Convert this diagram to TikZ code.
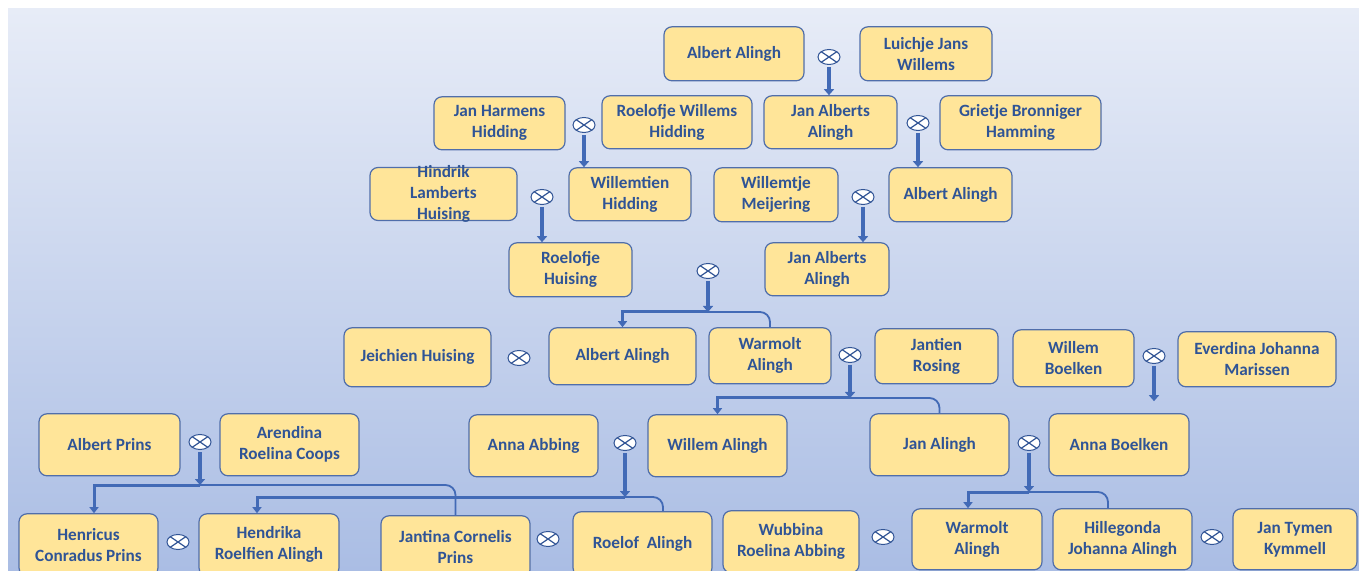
\documentclass[tikz,border=0pt]{standalone}
\usepackage{fontspec}
\setmainfont{Carlito}
\usetikzlibrary{shapes.geometric,arrows.meta,calc}
\definecolor{txtblue}{RGB}{47,84,150}
\definecolor{boxfill}{RGB}{255,229,153}
\definecolor{boxline}{RGB}{80,110,170}
\definecolor{conn}{RGB}{66,106,182}
\definecolor{wedline}{RGB}{50,85,150}
\definecolor{bgtop}{RGB}{231,236,247}
\definecolor{bgbot}{RGB}{170,189,228}
\newcommand\personbox[6]{\node[person, minimum width={(#4-#2)*0.5pt}, minimum height={(#5-#3)*0.5pt}] (#1) at ({(#2+#4)/2},{(#3+#5)/2+0.8}) {#6};}
\begin{document}
\begin{tikzpicture}[x=0.5pt,y=-0.5pt,
  ptext/.style={align=center, text=txtblue, font=\fontsize{8.6pt}{10.5pt}\selectfont\bfseries},
  person/.style={ptext, draw=boxline, line width=0.6pt, fill=boxfill, rounded corners=4pt, inner sep=0pt},
  wed/.style={ellipse, draw=wedline, line width=0.5pt, fill=white, minimum width=11pt, minimum height=7.5pt, inner sep=0pt,
    path picture={\draw[wedline,line width=0.6pt] (path picture bounding box.north west) -- (path picture bounding box.south east)
      (path picture bounding box.north east) -- (path picture bounding box.south west);}},
  arrowc/.style={draw=conn, line width=2pt, shorten <=1pt, -{Triangle[width=5pt,length=3pt]}},
  thickc/.style={draw=conn, line width=1.5pt, -{Triangle[width=4.5pt,length=3pt]}},
  thinc/.style={draw=conn, line width=0.9pt, rounded corners=5pt}
]
\useasboundingbox (0,0) rectangle (1359,571);
\fill[white] (0,0) rectangle (1359,571);
\shade[top color=bgtop, bottom color=bgbot] (8,9) rectangle (1359,571);

% persons
\personbox{aa1}{664}{26}{804}{80}{Albert Alingh}
\personbox{ljw}{860}{26}{992}{80}{Luichje Jans\\Willems}
\personbox{jaa1}{764}{95}{897}{148}{Jan Alberts\\Alingh}
\personbox{gbh}{940}{95}{1101}{149}{Grietje Bronniger\\Hamming}
\personbox{aa2}{889}{167}{1012}{221}{Albert Alingh}
\personbox{jhh}{434}{96}{565}{149}{Jan Harmens\\Hidding}
\personbox{rwh}{602}{95}{752}{148}{Roelofje Willems\\Hidding}
\personbox{wh}{569}{167}{691}{220}{Willemtien\\Hidding}
\node[person, minimum width=73.5pt, minimum height=26.5pt,
  label={[ptext]center:Hindrik\\Lamberts\\Huising}] (hlh) at (443.5,194) {};
\personbox{rh}{509}{242}{632}{296}{Roelofje\\Huising}
\personbox{wm}{714}{167}{838}{221}{Willemtje\\Meijering}
\personbox{jaa2}{765}{242}{889}{295}{Jan Alberts\\Alingh}
\personbox{jhu}{344}{327}{491}{386}{Jeichien Huising}
\personbox{aa3}{549}{327}{696}{384}{Albert Alingh}
\personbox{wa1}{709}{327}{831}{383}{Warmolt\\Alingh}
\personbox{jr}{875}{328}{998}{383}{Jantien\\Rosing}
\personbox{wb}{1013}{329}{1134}{386}{Willem\\Boelken}
\personbox{ejm}{1178}{331}{1336}{386}{Everdina Johanna\\Marissen}
\personbox{ap}{39}{413}{180}{475}{Albert Prins}
\personbox{arc}{220}{413}{359}{475}{Arendina\\Roelina Coops}
\personbox{ab}{469}{414}{598}{476}{Anna Abbing}
\personbox{wal}{648}{414}{787}{476}{Willem Alingh}
\personbox{ja}{870}{413}{1009}{475}{Jan Alingh}
\personbox{abo}{1049}{413}{1189}{475}{Anna Boelken}
\personbox{hcp}{19}{513}{158}{575}{Henricus\\Conradus Prins}
\personbox{hra}{199}{513}{339}{575}{Hendrika\\Roelfien Alingh}
\personbox{jcp}{381}{515}{530}{577}{Jantina Cornelis\\Prins}
\personbox{ra}{573}{511}{712}{575}{Roelof\ \ Alingh}
\personbox{wra}{723}{510}{859}{572}{Wubbina\\Roelina Abbing}
\personbox{wa2}{912}{508}{1042}{569}{Warmolt\\Alingh}
\personbox{hja}{1053}{508}{1192}{569}{Hillegonda\\Johanna Alingh}
\personbox{jtk}{1233}{508}{1357}{569}{Jan Tymen\\Kymmell}

% marriage symbols
\node[wed] (m1) at (829,57) {};
\node[wed] (m2) at (918,123) {};
\node[wed] (m3) at (584,125) {};
\node[wed] (m4) at (542,197) {};
\node[wed] (m5) at (863,197) {};
\node[wed] (m6) at (708,271) {};
\node[wed] (m7) at (519,358) {};
\node[wed] (m8) at (850,355) {};
\node[wed] (m9) at (1154,356) {};
\node[wed] (m10) at (200,442) {};
\node[wed] (m11) at (625,443) {};
\node[wed] (m12) at (1029,443) {};
\node[wed] (m13) at (178,542) {};
\node[wed] (m14) at (548,539) {};
\node[wed] (m15) at (883,537) {};
\node[wed] (m16) at (1212,537) {};

% single-child connectors
\draw[arrowc] (m1.south) -- (m1.south |- jaa1.north);
\draw[arrowc] (m2.south) -- (m2.south |- aa2.north);
\draw[arrowc] (m3.south) -- (m3.south |- wh.north);
\draw[arrowc] (m4.south) -- (m4.south |- rh.north);
\draw[arrowc] (m5.south) -- (m5.south |- jaa2.north);
\draw[arrowc, shorten >=6pt] (m9.south) -- (m9.south |- abo.north);

% two-child connectors
\coordinate (b6) at (708,312);
\draw[thinc] (b6) -| (wa1.north);
\draw[thickc] (b6) -| (aa3.north);
\draw[arrowc] (m6.south) -- (b6);

\coordinate (b8) at (850,398);
\draw[thinc] (b8) -| (ja.north);
\draw[thickc] (b8) -| (wal.north);
\draw[arrowc] (m8.south) -- (b8);

\coordinate (b10) at (200,485);
\draw[thinc] (b10) -| (jcp.north);
\draw[thickc] (b10) -| ([xshift=2.75pt]hcp.north);
\draw[arrowc] (m10.south) -- (b10);

\coordinate (b11) at (625,497);
\draw[thinc] (b11) -| ([xshift=10.25pt]ra.north);
\draw[thickc] (b11) -| ([xshift=-6pt]hra.north);
\draw[arrowc] (m11.south) -- (b11);

\coordinate (b12) at (1029,492);
\draw[thinc] (b12) -| ([xshift=-7.25pt]hja.north);
\draw[thickc] (b12) -| ([xshift=-4.5pt]wa2.north);
\draw[arrowc] (m12.south) -- (b12);
\end{tikzpicture}
\end{document}
